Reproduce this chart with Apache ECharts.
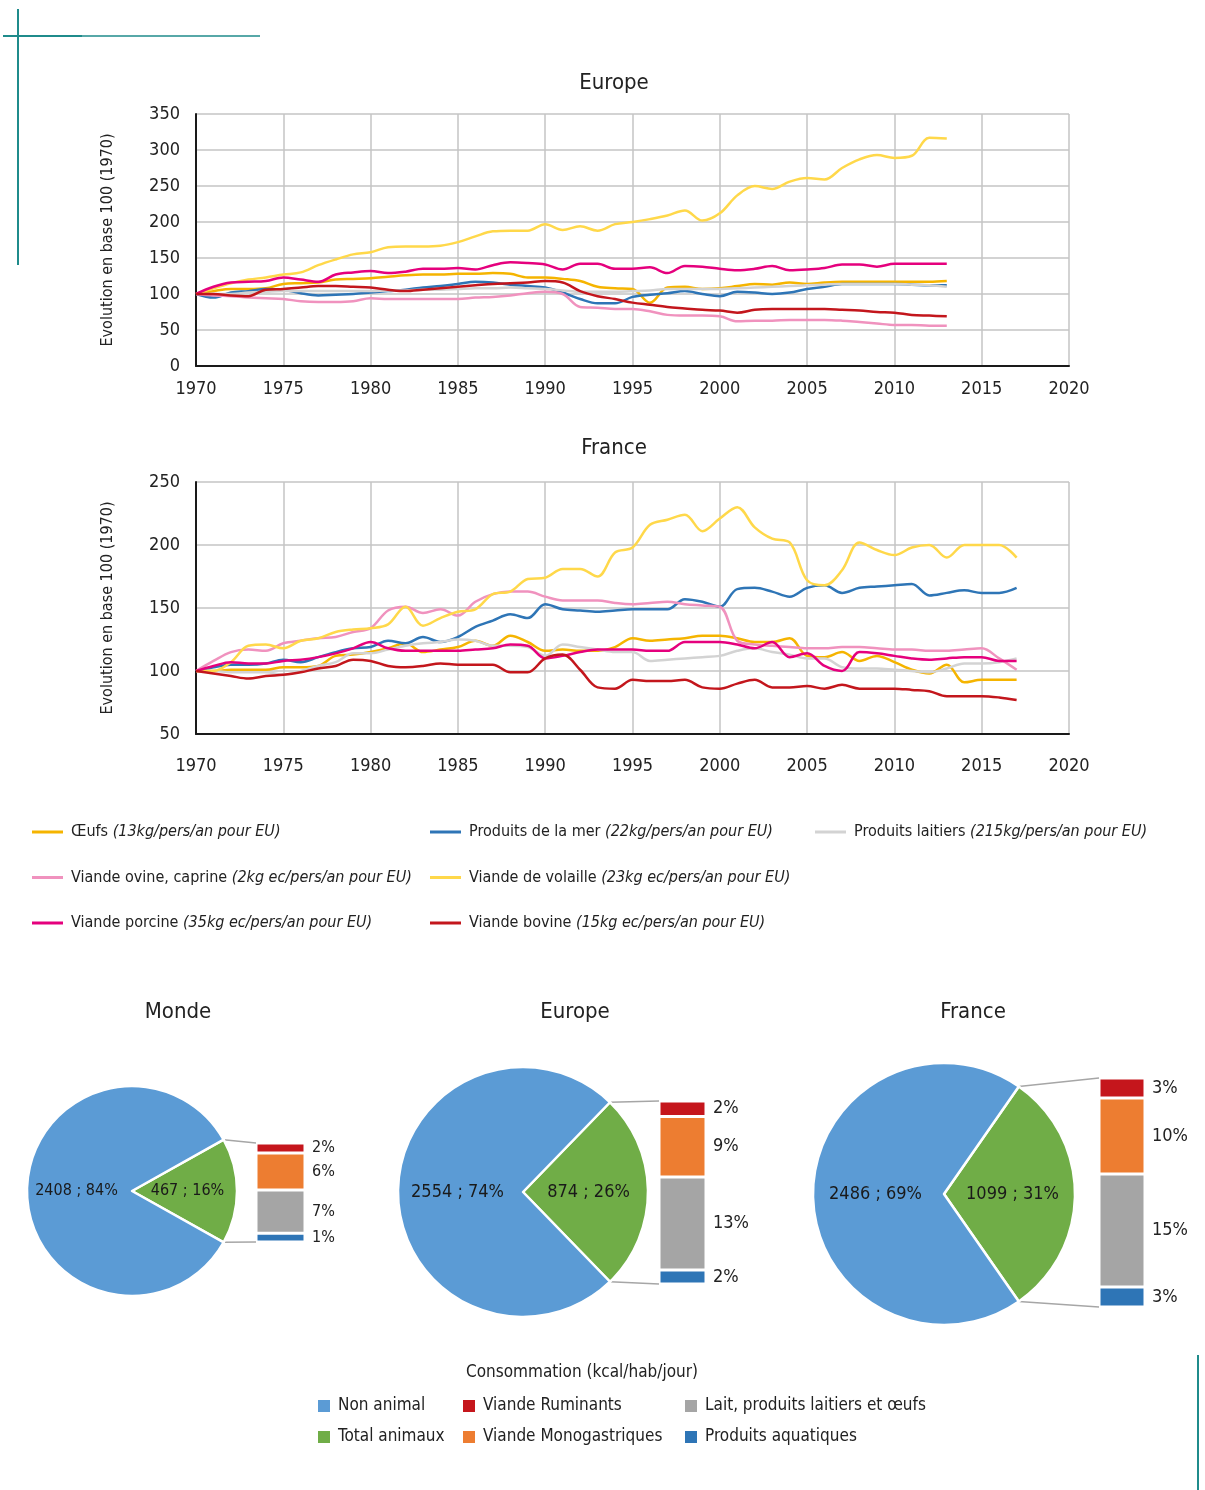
<!DOCTYPE html>
<html>
<head>
<meta charset="utf-8">
<script src="https://cdn.jsdelivr.net/npm/echarts@6/dist/echarts.min.js"></script>
<style>
html, body { margin: 0; padding: 0; background: #fff; }
#main { width: 1205px; height: 1490px; }
</style>
</head>
<body>
<div id="main"></div>
<script>
// ---- data ----
var lineNames = ['Œufs', 'Produits de la mer', 'Produits laitiers', 'Viande ovine, caprine', 'Viande de volaille', 'Viande porcine', 'Viande bovine'];
var lineUnits = ['(13kg/pers/an pour EU)', '(22kg/pers/an pour EU)', '(215kg/pers/an pour EU)', '(2kg ec/pers/an pour EU)', '(23kg ec/pers/an pour EU)', '(35kg ec/pers/an pour EU)', '(15kg ec/pers/an pour EU)'];

var euYears = [1970, 1971, 1972, 1973, 1974, 1975, 1976, 1977, 1978, 1979, 1980, 1981, 1982, 1983, 1984, 1985, 1986, 1987, 1988, 1989, 1990, 1991, 1992, 1993, 1994, 1995, 1996, 1997, 1998, 1999, 2000, 2001, 2002, 2003, 2004, 2005, 2006, 2007, 2008, 2009, 2010, 2011, 2012, 2013];
var euOeufs    = [100,104,107,107,108,114,115,116,120,121, 122,124,126,127,127,128,128,129,128,123, 123,121,118,110,108,107,88,109,110,107, 108,111,114,113,116,114,116,117,117,117, 117,117,117,118];
var euMer      = [100,95,102,104,107,106,101,98,99,100, 102,104,106,109,111,114,117,116,113,111, 109,102,93,87,87,96,99,101,104,100, 97,103,102,100,102,107,110,114,114,114, 114,113,112,112];
var euLait     = [100,100,100,102,103,104,104,104,104,104, 104,105,105,106,106,107,108,108,109,108, 107,105,103,103,103,104,105,107,107,107, 107,108,109,110,111,112,113,114,114,114, 114,113,112,110];
var euOvine    = [100,98,97,95,94,93,90,89,89,90, 94,93,93,93,93,93,95,96,98,101, 103,100,82,81,79,79,76,71,70,70, 69,62,63,63,64,64,64,63,61,59, 57,57,56,56];
var euVolaille = [100,108,115,120,123,127,130,140,148,155, 158,165,166,166,167,172,180,187,188,188, 197,189,194,188,197,200,204,209,216,202, 212,237,250,246,256,261,259,275,287,293, 289,292,317,316];
var euPorcine  = [100,110,116,117,118,123,120,117,127,130, 132,129,131,135,135,136,134,140,144,143, 141,134,142,142,135,135,137,129,139,138, 135,133,135,139,133,134,136,141,141,138, 142,142,142,142];
var euBovine   = [100,100,98,97,106,107,109,111,111,110, 109,106,104,106,108,110,112,114,115,116, 118,116,104,97,93,88,85,82,80,78, 77,74,78,79,79,79,79,78,77,75, 74,71,70,69];

var frYears = [1970, 1971, 1972, 1973, 1974, 1975, 1976, 1977, 1978, 1979, 1980, 1981, 1982, 1983, 1984, 1985, 1986, 1987, 1988, 1989, 1990, 1991, 1992, 1993, 1994, 1995, 1996, 1997, 1998, 1999, 2000, 2001, 2002, 2003, 2004, 2005, 2006, 2007, 2008, 2009, 2010, 2011, 2012, 2013, 2014, 2015, 2016, 2017];
var frOeufs    = [100,100,101,101,101,103,103,104,112,113, 115,118,122,115,117,119,124,120,128,123, 116,117,116,116,119,126,124,125,126,128, 128,126,123,123,126,112,111,115,108,112, 107,101,98,105,91,93,93,93];
var frMer      = [100,103,105,105,106,109,107,111,115,118, 119,124,122,127,123,127,135,140,145,142, 153,149,148,147,148,149,149,149,157,155, 151,165,166,163,159,166,168,162,166,167, 168,169,160,162,164,162,162,166];
var frLait     = [100,100,99,99,99,97,100,104,107,114, 114,117,120,122,123,125,124,120,120,119, 112,121,119,117,115,115,108,109,110,111, 112,116,118,115,113,110,110,103,102,102, 101,100,99,102,106,106,107,110];
var frOvine    = [100,108,115,117,116,122,124,126,127,131, 134,148,151,146,149,144,155,161,163,163, 159,156,156,156,154,153,154,155,153,152, 151,124,121,120,119,118,118,119,119,118, 117,117,116,116,117,118,110,101];
var frVolaille = [100,100,107,120,121,118,124,126,131,133, 134,137,151,136,142,147,149,161,163,173, 174,181,181,175,194,198,216,220,224,211, 221,230,214,205,202,172,168,180,202,196, 192,198,200,190,200,200,200,190];
var frPorcine  = [100,104,107,106,106,108,109,111,114,118, 123,118,116,116,116,116,117,118,121,120, 110,112,115,117,117,117,116,116,123,123, 123,121,118,123,111,114,104,100,115,114, 112,110,109,110,111,111,108,108];
var frBovine   = [100,98,96,94,96,97,99,102,104,109, 108,104,103,104,106,105,105,105,99,99, 110,113,101,87,86,93,92,92,93,87, 86,90,93,87,87,88,86,89,86,86, 86,85,84,80,80,80,79,77];

var euValues = [euOeufs, euMer, euLait, euOvine, euVolaille, euPorcine, euBovine];
var frValues = [frOeufs, frMer, frLait, frOvine, frVolaille, frPorcine, frBovine];

var pieRegions = ['Monde', 'Europe', 'France'];
var pieNonAnimal = [2408, 2554, 2486];
var pieAnimal = [467, 874, 1099];
// % of total kcal, stacked bottom -> top
var barNames = ['Produits aquatiques', 'Lait, produits laitiers et œufs', 'Viande Monogastriques', 'Viande Ruminants'];
var barValues = [
  [1.4, 7.0, 6.0, 1.6],
  [2.0, 13.2, 8.6, 2.2],
  [2.7, 15.3, 10.3, 2.7]
];

// ---- styles / layout ----
var FONT = '"Liberation Sans Narrow", "DejaVu Sans Condensed", "Roboto Condensed", "Liberation Sans", sans-serif';
var lineColors = ['#F5B400', '#2E75B6', '#D3D3D3', '#F092BE', '#FFD84A', '#E5007D', '#C3161C'];
var barColors = ['#2E75B6', '#A5A5A5', '#ED7D31', '#C5161C'];
var pieColors = ['#70AD47', '#5B9BD5'];
var pieCenters = [[132, 1191], [523, 1192], [944, 1194]];
var pieRadius = [105, 125, 131];
var barBoxes = [[256, 1143, 49, 99], [659, 1101, 47, 183], [1099, 1078, 46, 229]];
var titleX = [178, 575, 973];

var chart = echarts.init(document.getElementById('main'));

var grids = [
  { left: 196, top: 114, width: 873, height: 252 },
  { left: 196, top: 482, width: 873, height: 252 }
];
var xAxes = [], yAxes = [], series = [];

function lineAxes(min, max, labelMargin) {
  xAxes.push({
    type: 'value', gridIndex: xAxes.length, min: 1970, max: 2020, interval: 5,
    axisLine: { show: true, onZero: false, lineStyle: { color: '#1a1a1a', width: 2 } },
    axisTick: { show: false },
    axisLabel: { fontFamily: FONT, fontSize: 18, color: '#222', margin: labelMargin,
      formatter: function (v) { return String(v); } },
    splitLine: { show: true, lineStyle: { color: '#C4C4C4', width: 1.5 } }
  });
  yAxes.push({
    type: 'value', gridIndex: yAxes.length, min: min, max: max, interval: 50,
    name: 'Evolution en base 100 (1970)', nameLocation: 'middle', nameGap: 80,
    nameTextStyle: { fontFamily: FONT, fontSize: 16, color: '#222' },
    axisLine: { show: true, lineStyle: { color: '#1a1a1a', width: 2 } },
    axisTick: { show: false },
    axisLabel: { fontFamily: FONT, fontSize: 18, color: '#222', margin: 16 },
    splitLine: { show: true, lineStyle: { color: '#C4C4C4', width: 1.5 } }
  });
}
lineAxes(0, 350, 14);
lineAxes(50, 250, 23);

function addLines(idx, years, values) {
  lineNames.forEach(function (n, i) {
    series.push({
      name: n, type: 'line', xAxisIndex: idx, yAxisIndex: idx,
      data: years.map(function (y, k) { return [y, values[i][k]]; }),
      smooth: 0.35, symbol: 'none',
      lineStyle: { width: 2.5, color: lineColors[i] },
      itemStyle: { color: lineColors[i] }
    });
  });
}
addLines(0, euYears, euValues);
addLines(1, frYears, frValues);

var graphics = [];

pieRegions.forEach(function (region, r) {
  var box = barBoxes[r];
  var gi = grids.length;
  var total = barValues[r].reduce(function (a, b) { return a + b; }, 0);
  grids.push({ left: box[0], top: box[1], width: box[2], height: box[3] });
  xAxes.push({ type: 'category', gridIndex: gi, data: [region], show: false });
  yAxes.push({ type: 'value', gridIndex: gi, min: 0, max: total, show: false });
  var fs = r === 0 ? 16 : 18;
  barNames.forEach(function (n, j) {
    series.push({
      name: n, type: 'bar', xAxisIndex: gi, yAxisIndex: gi, stack: 'detail' + r,
      barWidth: '100%', data: [barValues[r][j]],
      itemStyle: { color: barColors[j], borderColor: '#fff', borderWidth: 1.5 },
      label: {
        show: true, position: 'right', distance: 7,
        fontFamily: FONT, fontSize: fs, color: '#222',
        formatter: function (p) { return Math.round(p.value) + '%'; }
      }
    });
  });

  var animPct = Math.round(total);
  var share = pieAnimal[r] / (pieAnimal[r] + pieNonAnimal[r]);
  var half = share * 180;
  series.push({
    type: 'pie', name: region, center: pieCenters[r], radius: pieRadius[r],
    startAngle: half, clockwise: true, silent: true,
    data: [
      { name: 'Total animaux', value: pieAnimal[r], pct: animPct },
      { name: 'Non animal', value: pieNonAnimal[r], pct: 100 - animPct }
    ],
    color: pieColors,
    itemStyle: { borderColor: '#fff', borderWidth: 2.5 },
    label: {
      show: true, position: 'inside', fontFamily: FONT, fontSize: fs, color: '#1a1a1a',
      formatter: function (p) { return p.value + ' ; ' + p.data.pct + '%'; }
    },
    labelLine: { show: false }
  });

  // connectors from the green slice edges to the stacked bar
  var a = half * Math.PI / 180;
  var c = pieCenters[r], rad = pieRadius[r];
  var ex = c[0] + rad * Math.cos(a);
  graphics.push({ type: 'line', shape: { x1: ex, y1: c[1] - rad * Math.sin(a), x2: box[0], y2: box[1] }, style: { stroke: '#A6A6A6', lineWidth: 1.5 }, z: 1 });
  graphics.push({ type: 'line', shape: { x1: ex, y1: c[1] + rad * Math.sin(a), x2: box[0], y2: box[1] + box[3] }, style: { stroke: '#A6A6A6', lineWidth: 1.5 }, z: 1 });

  graphics.push({ type: 'text', x: titleX[r], y: 1012, style: { text: region, align: 'center', verticalAlign: 'middle', font: '22px ' + FONT, fill: '#222' } });
});

function txt(x, y, s, size) {
  return { type: 'text', x: x, y: y, style: { text: s, align: 'center', verticalAlign: 'middle', font: size + 'px ' + FONT, fill: '#222' } };
}
graphics.push(txt(614, 83, 'Europe', 22));
graphics.push(txt(614, 448, 'France', 22));
graphics.push(txt(582, 1373, 'Consommation (kcal/hab/jour)', 17));

// decorative frame strokes
var teal = '#1F8B8B';
graphics.push({ type: 'line', shape: { x1: 3, y1: 36, x2: 260, y2: 36 }, style: { stroke: teal, lineWidth: 1.5 } });
graphics.push({ type: 'line', shape: { x1: 3, y1: 36, x2: 82, y2: 36 }, style: { stroke: teal, lineWidth: 2 } });
graphics.push({ type: 'line', shape: { x1: 18, y1: 9, x2: 18, y2: 265 }, style: { stroke: teal, lineWidth: 2 } });
graphics.push({ type: 'line', shape: { x1: 1198, y1: 1355, x2: 1198, y2: 1490 }, style: { stroke: teal, lineWidth: 2 } });

var lineLegendText = {
  fontFamily: FONT, fontSize: 16, color: '#222', lineHeight: 20, padding: [0, 0, 0, 3],
  rich: { i: { fontFamily: FONT, fontSize: 16, fontStyle: 'italic', color: '#222', lineHeight: 20 } }
};
function lineLegend(left, names) {
  return {
    orient: 'vertical', left: left, top: 822, padding: 0, itemGap: 25.5, itemWidth: 31, itemHeight: 3,
    icon: 'rect', selectedMode: false, data: names, textStyle: lineLegendText,
    formatter: function (name) { return name + ' {i|' + lineUnits[lineNames.indexOf(name)] + '}'; }
  };
}
function pieLegend(left, names) {
  return {
    orient: 'vertical', left: left, top: 1396, padding: 0, itemGap: 11, itemWidth: 14, itemHeight: 14,
    icon: 'rect', selectedMode: false, data: names,
    textStyle: { fontFamily: FONT, fontSize: 17, color: '#222', lineHeight: 20, padding: [0, 0, 0, 2] }
  };
}

var option = {
  backgroundColor: '#fff',
  animation: false,
  grid: grids,
  xAxis: xAxes,
  yAxis: yAxes,
  legend: [
    lineLegend(32, ['Œufs', 'Viande ovine, caprine', 'Viande porcine']),
    lineLegend(430, ['Produits de la mer', 'Viande de volaille', 'Viande bovine']),
    lineLegend(815, ['Produits laitiers']),
    pieLegend(316, ['Non animal', 'Total animaux']),
    pieLegend(461, ['Viande Ruminants', 'Viande Monogastriques']),
    pieLegend(683, ['Lait, produits laitiers et œufs', 'Produits aquatiques'])
  ],
  series: series,
  graphic: graphics
};
chart.setOption(option);
</script>
</body>
</html>
